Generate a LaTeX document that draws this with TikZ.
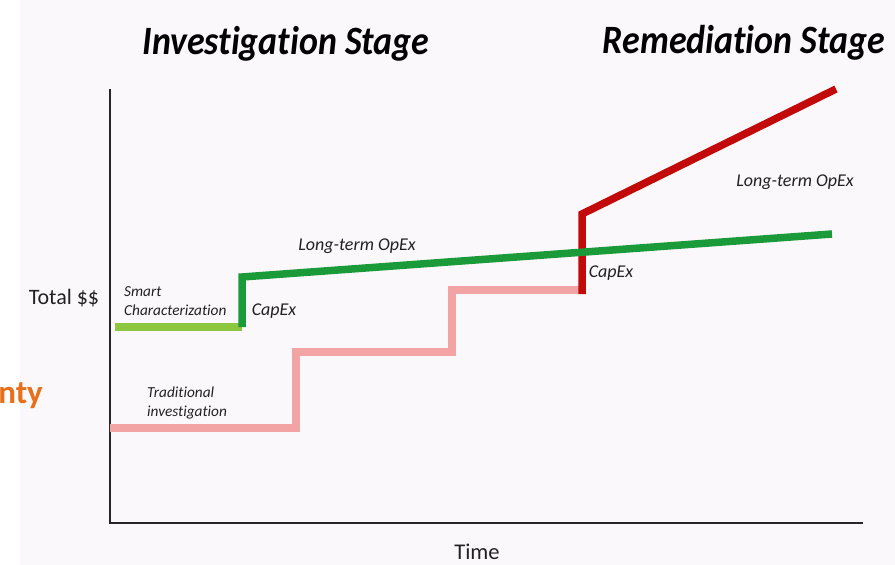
\documentclass[tikz,border=0pt]{standalone}
\usepackage{fontspec}
\usepackage{graphicx}
\setmainfont[Ligatures=NoCommon]{Carlito}
\definecolor{bg}{HTML}{FBF8FB}
\definecolor{lgreen}{HTML}{8DC63F}
\definecolor{dgreen}{HTML}{1B9A3A}
\definecolor{pinkl}{HTML}{F2A3A3}
\definecolor{redd}{HTML}{C20A0A}
\definecolor{orng}{HTML}{E8701A}
\definecolor{txt}{HTML}{222222}
\tikzset{
  axisline/.style={line width=2.6pt, draw=black!85},
  cline/.style={line width=7.5pt, line join=miter},
  lbl/.style={text=txt, font=\itshape\fontsize{15.3}{19}\selectfont, align=left, inner sep=0pt},
  biglbl/.style={text=txt, font=\itshape\fontsize{18}{20}\selectfont, inner sep=0pt},
  title/.style={text=black, inner sep=0pt},
}
\begin{document}
\begin{tikzpicture}[x=1pt,y=-1pt]
\fill[bg] (0,0) rectangle (895,565);
\fill[white] (0,0) rectangle (20,565);
\useasboundingbox (0,0) rectangle (895,565);
% titles
\node[title] (t1) at (286,44) {\resizebox*{287pt}{35pt}{\bfseries\itshape Investigation Stage}};
\node[title] (t2) at (744,43) {\resizebox*{282pt}{35pt}{\bfseries\itshape Remediation Stage}};
% axes
\coordinate (ytop) at (110,89);
\coordinate (orig) at (110,523);
\coordinate (xend) at (863,523);
\draw[axisline] (ytop) -- (orig) -- (xend);
% traditional (pink)
\coordinate (p0) at (110,428);
\coordinate (p1) at (296,428);
\coordinate (p2) at (296,352);
\coordinate (p3) at (452,352);
\coordinate (p4) at (452,290);
\coordinate (p5) at (582,290);
\draw[cline, pinkl] (p0) -- (p1) -- (p2) -- (p3) -- (p4) -- (p5);
% red remediation
\coordinate (r0) at (582,294);
\coordinate (r1) at (582,214);
\coordinate (r2) at (836,89);
\draw[cline, redd] (r0) -- (r1) -- (r2);
% smart characterization (green)
\coordinate (g0) at (115,327);
\coordinate (g1) at (242,327);
\coordinate (g2) at (242,277);
\coordinate (g3) at (832,234);
\draw[cline, lgreen] (g0) -- (g1);
\draw[cline, dgreen] (g1) -- (g2) -- (g3);
% labels
\node[text=txt, font=\fontsize{22}{24}\selectfont, inner sep=0pt] (total) at (64,298) {Total \$\$};
\node[text=txt, font=\fontsize{22.5}{24}\selectfont, inner sep=0pt] (time) at (477,552) {Time};
\node[lbl, anchor=west] (smart) at (124,301) {Smart\\Characterization};
\node[lbl, anchor=west] (trad) at (147,403) {Traditional\\investigation};
\node[biglbl] (cap1) at (274,311) {CapEx};
\node[biglbl] (cap2) at (611,273) {CapEx};
\node[biglbl] (op1) at (357,246) {Long-term OpEx};
\node[biglbl] (op2) at (795,182) {Long-term OpEx};
\node[text=orng, font=\bfseries\fontsize{33}{35}\selectfont, inner sep=0pt, anchor=east] (unc) at (43,396) {nty};
\end{tikzpicture}
\end{document}
